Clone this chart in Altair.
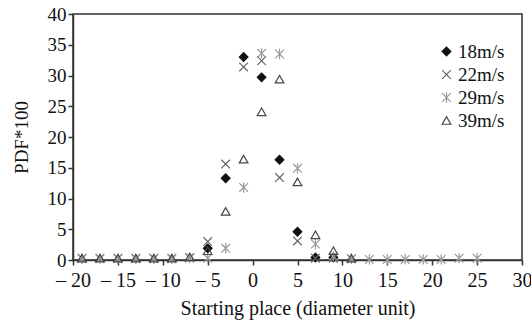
import altair as alt
import pandas as pd

series_names = ["18m/s", "22m/s", "29m/s", "39m/s"]

x_18 = [-5, -3, -1, 1, 3, 5, 7, 9]
y_18 = [1.9, 13.3, 33.0, 29.7, 16.3, 4.6, 0.4, 0.4]

x_22 = [-19, -17, -15, -13, -11, -9, -7, -5, -3, -1, 1, 3, 5, 7, 9, 11]
y_22 = [0.3, 0.3, 0.3, 0.3, 0.3, 0.3, 0.4, 3.0, 15.6, 31.4, 32.4, 13.4, 3.1, 0.3, 0.3, 0.2]

x_29 = [-19, -17, -15, -13, -11, -9, -7, -5, -3, -1, 1, 3, 5, 7, 9, 11, 13, 15, 17, 19, 21, 23, 25]
y_29 = [0.2, 0.2, 0.2, 0.2, 0.2, 0.2, 0.3, 0.3, 1.9, 11.8, 33.6, 33.5, 14.9, 2.6, 0.6, 0.2,
        0.1, 0.1, 0.1, 0.1, 0.1, 0.3, 0.3]

x_39 = [-19, -17, -15, -13, -11, -9, -7, -5, -3, -1, 1, 3, 5, 7, 9, 11]
y_39 = [0.3, 0.3, 0.3, 0.3, 0.3, 0.3, 0.5, 1.5, 7.9, 16.4, 24.1, 29.4, 12.7, 4.1, 1.5, 0.3]

x_ticks = [-20, -15, -10, -5, 0, 5, 10, 15, 20, 25, 30]
y_ticks = [0, 5, 10, 15, 20, 25, 30, 35, 40]

rows = []
for name, xs, ys in zip(series_names, [x_18, x_22, x_29, x_39], [y_18, y_22, y_29, y_39]):
    for a, b in zip(xs, ys):
        rows.append({"series": name, "x": a, "y": b})
df = pd.DataFrame(rows)

X_PATH = "M -1 -1 L 1 1 M -1 1 L 1 -1"
AST_PATH = "M -1 -1 L 1 1 M -1 1 L 1 -1 M 0 -1.2 L 0 1.2"

font = "Liberation Serif"
FS = 20


def leg():
    return alt.Legend(title=None, orient="none", legendX=364, legendY=28,
                      labelFont=font, labelFontSize=19, labelColor="#111",
                      symbolSize=75, rowPadding=3, labelOffset=2,
                      symbolStrokeWidth=1.2)


chart = alt.Chart(df).mark_point(filled=False, strokeWidth=1.2, size=75, opacity=1).encode(
    x=alt.X("x:Q", scale=alt.Scale(domain=[-20, 30], nice=False, zero=False),
            axis=alt.Axis(values=x_ticks, title="Starting place (diameter unit)", grid=False,
                          labelOverlap=False, labelFlush=False, labelFont=font, labelFontSize=FS,
                          labelPadding=5,
                          titleFont=font, titleFontSize=FS, titlePadding=8,
                          labelExpr="datum.value < 0 ? '\u2013 ' + abs(datum.value) : datum.label")),
    y=alt.Y("y:Q", scale=alt.Scale(domain=[0, 40], nice=False),
            axis=alt.Axis(values=y_ticks, title="PDF*100", grid=False, labelOverlap=False,
                          labelFlush=False, labelFont=font, labelFontSize=19, labelPadding=2,
                          titleFont=font, titleFontSize=19, titlePadding=16)),
    shape=alt.Shape("series:N", sort=series_names,
                    scale=alt.Scale(domain=series_names,
                                    range=["diamond", X_PATH, AST_PATH, "triangle-up"]),
                    legend=leg()),
    color=alt.Color("series:N", sort=series_names,
                    scale=alt.Scale(domain=series_names,
                                    range=["#111111", "#666666", "#9a9a9a", "#444444"]),
                    legend=leg()),
    fill=alt.Fill("series:N", sort=series_names,
                  scale=alt.Scale(domain=series_names,
                                  range=["#111111", "transparent", "transparent", "transparent"]),
                  legend=leg()),
).properties(
    width=449, height=246,
    autosize=alt.AutoSizeParams(type="none"),
    padding={"left": 73, "top": 14, "right": 9, "bottom": 62},
).configure_view(
    stroke="#333333", strokeWidth=1.5
).configure_axis(
    labelColor="#111", titleColor="#111", titleFontWeight="normal",
    domainColor="#333333", tickColor="#333333", domainWidth=1.5, tickWidth=1.5,
    tickSize=5,
)

chart.save("out.html", embed_options={"renderer": "svg", "actions": False})
